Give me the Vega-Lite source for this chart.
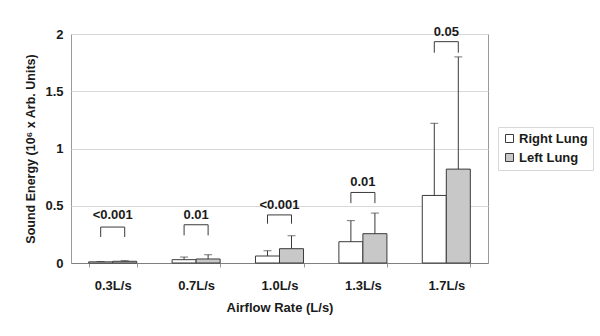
{
  "$schema": "https://vega.github.io/schema/vega-lite/v6.json",
  "width": 417,
  "height": 229,
  "autosize": {"type": "none"},
  "padding": {"left": 71, "top": 34, "right": 112, "bottom": 73},
  "background": "white",
  "config": {
    "font": "Liberation Sans",
    "view": {"stroke": "#9a9a9a", "strokeWidth": 1},
    "axis": {"labelFont": "Liberation Sans", "titleFont": "Liberation Sans", "labelFontWeight": "bold", "titleFontWeight": "bold", "labelColor": "#1a1a1a", "titleColor": "#1a1a1a", "labelFontSize": 13, "titleFontSize": 13}
  },
  "datasets": {
    "bars": [
      {"rate": "0.3L/s", "lung": "Right Lung", "value": 0.010, "err": 0.013},
      {"rate": "0.3L/s", "lung": "Left Lung", "value": 0.015, "err": 0.020},
      {"rate": "0.7L/s", "lung": "Right Lung", "value": 0.029, "err": 0.052},
      {"rate": "0.7L/s", "lung": "Left Lung", "value": 0.035, "err": 0.072},
      {"rate": "1.0L/s", "lung": "Right Lung", "value": 0.061, "err": 0.107},
      {"rate": "1.0L/s", "lung": "Left Lung", "value": 0.125, "err": 0.238},
      {"rate": "1.3L/s", "lung": "Right Lung", "value": 0.186, "err": 0.37},
      {"rate": "1.3L/s", "lung": "Left Lung", "value": 0.256, "err": 0.436},
      {"rate": "1.7L/s", "lung": "Right Lung", "value": 0.59, "err": 1.22},
      {"rate": "1.7L/s", "lung": "Left Lung", "value": 0.82, "err": 1.80}
    ],
    "brackets": [
      {"rate": "0.3L/s", "lung": "Right Lung", "y": 0.227, "ord": 1},
      {"rate": "0.3L/s", "lung": "Right Lung", "y": 0.314, "ord": 2},
      {"rate": "0.3L/s", "lung": "Left Lung", "y": 0.314, "ord": 3},
      {"rate": "0.3L/s", "lung": "Left Lung", "y": 0.227, "ord": 4},
      {"rate": "0.7L/s", "lung": "Right Lung", "y": 0.241, "ord": 1},
      {"rate": "0.7L/s", "lung": "Right Lung", "y": 0.334, "ord": 2},
      {"rate": "0.7L/s", "lung": "Left Lung", "y": 0.334, "ord": 3},
      {"rate": "0.7L/s", "lung": "Left Lung", "y": 0.241, "ord": 4},
      {"rate": "1.0L/s", "lung": "Right Lung", "y": 0.343, "ord": 1},
      {"rate": "1.0L/s", "lung": "Right Lung", "y": 0.42, "ord": 2},
      {"rate": "1.0L/s", "lung": "Left Lung", "y": 0.42, "ord": 3},
      {"rate": "1.0L/s", "lung": "Left Lung", "y": 0.343, "ord": 4},
      {"rate": "1.3L/s", "lung": "Right Lung", "y": 0.523, "ord": 1},
      {"rate": "1.3L/s", "lung": "Right Lung", "y": 0.616, "ord": 2},
      {"rate": "1.3L/s", "lung": "Left Lung", "y": 0.616, "ord": 3},
      {"rate": "1.3L/s", "lung": "Left Lung", "y": 0.523, "ord": 4},
      {"rate": "1.7L/s", "lung": "Right Lung", "y": 1.837, "ord": 1},
      {"rate": "1.7L/s", "lung": "Right Lung", "y": 1.933, "ord": 2},
      {"rate": "1.7L/s", "lung": "Left Lung", "y": 1.933, "ord": 3},
      {"rate": "1.7L/s", "lung": "Left Lung", "y": 1.837, "ord": 4}
    ],
    "pvals": [
      {"rate": "0.3L/s", "y": 0.415, "label": "<0.001"},
      {"rate": "0.7L/s", "y": 0.42, "label": "0.01"},
      {"rate": "1.0L/s", "y": 0.508, "label": "<0.001"},
      {"rate": "1.3L/s", "y": 0.71, "label": "0.01"},
      {"rate": "1.7L/s", "y": 2.02, "label": "0.05"}
    ]
  },
  "encoding": {
    "x": {
      "field": "rate", "type": "nominal", "sort": ["0.3L/s", "0.7L/s", "1.0L/s", "1.3L/s", "1.7L/s"],
      "scale": {"paddingInner": 0.424, "paddingOuter": 0.212},
      "axis": {"title": "Airflow Rate (L/s)", "labelAngle": 0, "labelPadding": 12, "titlePadding": 9, "tickBand": "extent", "tickSize": 4, "tickColor": "#9a9a9a", "domainColor": "#808080"}
    }
  },
  "layer": [
    {
      "data": {"name": "bars"},
      "mark": {"type": "bar", "stroke": "#3a3a3a", "strokeWidth": 1},
      "encoding": {
        "xOffset": {"field": "lung", "type": "nominal", "sort": ["Right Lung", "Left Lung"], "scale": {"paddingInner": 0, "paddingOuter": 0}},
        "y": {
          "field": "value", "type": "quantitative",
          "scale": {"domain": [0, 2]},
          "axis": {"title": "Sound Energy (10⁶ x Arb. Units)", "titleFontSize": 12.5, "values": [0, 0.5, 1, 1.5, 2], "format": "~g", "gridColor": "#d8d8d8", "ticks": false, "domain": false, "labelPadding": 8, "titlePadding": 7}
        },
        "fill": {
          "field": "lung", "type": "nominal",
          "scale": {"domain": ["Right Lung", "Left Lung"], "range": ["#ffffff", "#c8c8c8"]},
          "legend": {"title": null, "orient": "none", "legendX": 427, "legendY": 93, "symbolType": "square", "symbolSize": 64, "symbolStrokeColor": "#3a3a3a", "symbolStrokeWidth": 1, "labelFontSize": 13, "labelFontWeight": "bold", "labelFont": "Liberation Sans", "labelColor": "#1a1a1a", "strokeColor": "#d8d8d8", "padding": 5, "rowPadding": 5, "labelOffset": 3}
        }
      }
    },
    {
      "data": {"name": "bars"},
      "mark": {"type": "rule", "color": "#3a3a3a", "strokeWidth": 1},
      "encoding": {
        "xOffset": {"field": "lung", "type": "nominal", "sort": ["Right Lung", "Left Lung"]},
        "y": {"field": "value", "type": "quantitative"},
        "y2": {"field": "err"}
      }
    },
    {
      "data": {"name": "bars"},
      "mark": {"type": "tick", "color": "#3a3a3a", "size": 8, "thickness": 1},
      "encoding": {
        "xOffset": {"field": "lung", "type": "nominal", "sort": ["Right Lung", "Left Lung"]},
        "y": {"field": "err", "type": "quantitative"}
      }
    },
    {
      "data": {"name": "brackets"},
      "mark": {"type": "line", "color": "#3a3a3a", "strokeWidth": 1},
      "encoding": {
        "xOffset": {"field": "lung", "type": "nominal", "sort": ["Right Lung", "Left Lung"]},
        "y": {"field": "y", "type": "quantitative"},
        "detail": {"field": "rate"},
        "order": {"field": "ord", "type": "quantitative"}
      }
    },
    {
      "data": {"name": "pvals"},
      "mark": {"type": "text", "fontWeight": "bold", "fontSize": 13, "font": "Liberation Sans", "color": "#1a1a1a"},
      "encoding": {
        "y": {"field": "y", "type": "quantitative"},
        "text": {"field": "label"}
      }
    }
  ]
}
